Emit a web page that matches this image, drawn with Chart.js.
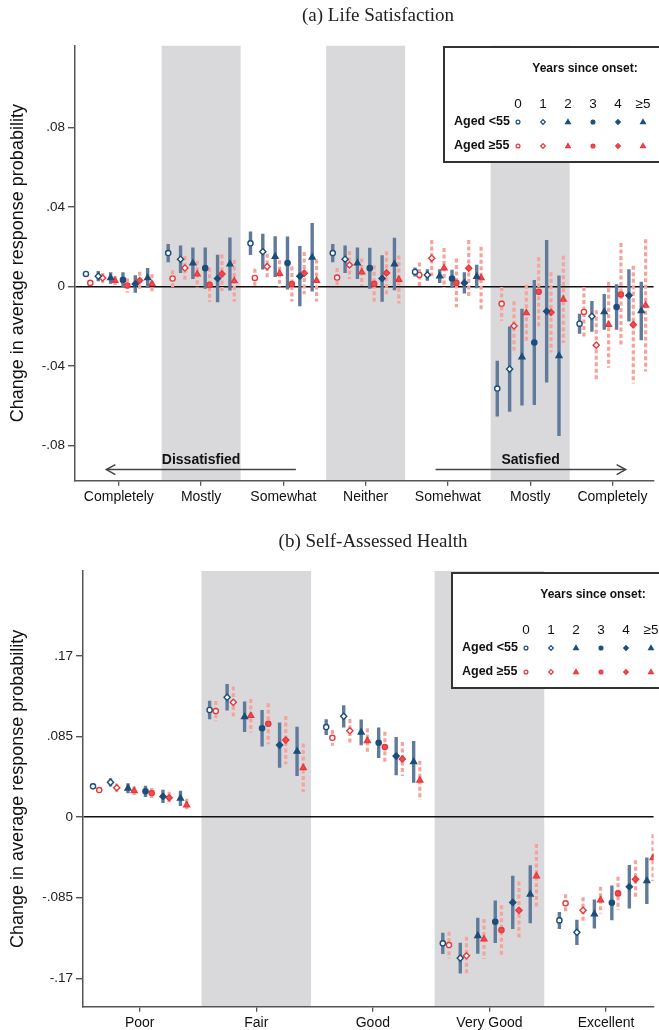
<!DOCTYPE html>
<html lang="en">
<head>
<meta charset="UTF-8" />
<title>Life Satisfaction and Self-Assessed Health</title>
<script src="https://cdn.jsdelivr.net/npm/chart.js"></script>
<style>
  body { margin: 0; background: #fff; }
  canvas { display: block; }
</style>
</head>
<body>
<canvas id="lsChart" width="659" height="515"></canvas>
<canvas id="shChart" width="659" height="515"></canvas>

<script>
const years = ["0", "1", "2", "3", "4", "≥5"];

// (a) life satisfaction: one row per category, one value per year since onset
const lsCategories = ["Completely", "Mostly", "Somewhat", "Neither", "Somehwat", "Mostly", "Completely"];
const lsTicks = [0.08, 0.04, 0, -0.04, -0.08];
const lsYoungEst = [
  [0.0063, 0.0052, 0.0043, 0.0033, 0.0013, 0.0043],
  [0.0168, 0.0137, 0.0117, 0.0092, 0.0040, 0.0113],
  [0.0217, 0.0175, 0.0150, 0.0118, 0.0052, 0.0147],
  [0.0168, 0.0137, 0.0117, 0.0092, 0.0040, 0.0113],
  [0.0073, 0.0058, 0.0052, 0.0040, 0.0018, 0.0050],
  [-0.0513, -0.0415, -0.0355, -0.0282, -0.0125, -0.0348],
  [-0.0187, -0.0150, -0.0128, -0.0103, -0.0045, -0.0123]
];
const lsYoungErr = [
  [0.0013, 0.0026, 0.0029, 0.0038, 0.0044, 0.0050],
  [0.0046, 0.0069, 0.0079, 0.0104, 0.0119, 0.0133],
  [0.0059, 0.0090, 0.0102, 0.0133, 0.0151, 0.0172],
  [0.0046, 0.0069, 0.0079, 0.0103, 0.0117, 0.0132],
  [0.0023, 0.0029, 0.0034, 0.0044, 0.0053, 0.0059],
  [0.0140, 0.0214, 0.0243, 0.0314, 0.0358, 0.0403],
  [0.0050, 0.0077, 0.0090, 0.0114, 0.0131, 0.0147]
];
const lsOldEst = [
  [0.0018, 0.0043, 0.0030, 0.0005, 0.0030, 0.0013],
  [0.0040, 0.0093, 0.0062, 0.0008, 0.0063, 0.0028],
  [0.0043, 0.0100, 0.0065, 0.0012, 0.0067, 0.0030],
  [0.0045, 0.0108, 0.0072, 0.0013, 0.0068, 0.0035],
  [0.0058, 0.0142, 0.0093, 0.0018, 0.0092, 0.0043],
  [-0.0087, -0.0198, -0.0133, -0.0027, -0.0130, -0.0065],
  [-0.0128, -0.0295, -0.0192, -0.0040, -0.0192, -0.0095]
];
const lsOldErr = [
  [0.0010, 0.0025, 0.0023, 0.0036, 0.0044, 0.0049],
  [0.0042, 0.0059, 0.0067, 0.0086, 0.0098, 0.0105],
  [0.0046, 0.0064, 0.0067, 0.0088, 0.0106, 0.0106],
  [0.0048, 0.0070, 0.0069, 0.0094, 0.0109, 0.0121],
  [0.0063, 0.0091, 0.0101, 0.0122, 0.0142, 0.0157],
  [0.0085, 0.0124, 0.0142, 0.0174, 0.0201, 0.0219],
  [0.0126, 0.0176, 0.0216, 0.0258, 0.0296, 0.0332]
];

// (b) self-assessed health
const shCategories = ["Poor", "Fair", "Good", "Very Good", "Excellent"];
const shTicks = [0.17, 0.085, 0, -0.085, -0.17];
const shYoungEst = [
  [0.0324, 0.0366, 0.0303, 0.0271, 0.0218, 0.0197],
  [0.1129, 0.1263, 0.1058, 0.0936, 0.0759, 0.0693],
  [0.0949, 0.1062, 0.0893, 0.0784, 0.0643, 0.0583],
  [-0.1332, -0.1487, -0.1252, -0.1104, -0.0900, -0.0815],
  [-0.1090, -0.1216, -0.1023, -0.0904, -0.0735, -0.0672]
];
const shYoungErr = [
  [0.0028, 0.0044, 0.0053, 0.0060, 0.0070, 0.0081],
  [0.0097, 0.0139, 0.0162, 0.0192, 0.0239, 0.0260],
  [0.0083, 0.0118, 0.0137, 0.0160, 0.0202, 0.0220],
  [0.0111, 0.0162, 0.0190, 0.0225, 0.0281, 0.0306],
  [0.0090, 0.0132, 0.0153, 0.0183, 0.0229, 0.0246]
];
const shOldEst = [
  [0.0285, 0.0309, 0.0277, 0.0253, 0.0204, 0.0127],
  [0.1118, 0.1210, 0.1069, 0.0984, 0.0812, 0.0520],
  [0.0836, 0.0910, 0.0805, 0.0738, 0.0612, 0.0387],
  [-0.1350, -0.1463, -0.1287, -0.1192, -0.0984, -0.0622],
  [-0.0910, -0.0984, -0.0876, -0.0805, -0.0657, -0.0429]
];
const shOldErr = [
  [0.0026, 0.0044, 0.0044, 0.0053, 0.0062, 0.0065],
  [0.0107, 0.0167, 0.0176, 0.0216, 0.0255, 0.0257],
  [0.0083, 0.0123, 0.0132, 0.0162, 0.0179, 0.0206],
  [0.0141, 0.0202, 0.0211, 0.0262, 0.0304, 0.0338],
  [0.0095, 0.0137, 0.0141, 0.0176, 0.0202, 0.0248]
];

const SANS = '"Liberation Sans", Arial, Helvetica, sans-serif';
const SERIF = '"Liberation Serif", "DejaVu Serif", serif';
Chart.defaults.font.family = SANS;

const shapes = ["circle", "rectRot", "triangle", "circle", "rectRot", "triangle"];
const radii = [2.6, 3.1, 3.4, 2.6, 3.1, 3.4];
const groups = {
  young: { marker: "#1d4e7a", fill: "#1d4e7a", bar: "#5f7a9a", dash: [], width: 3.4, shift: 0 },
  old: { marker: "#e8383d", fill: "#ee4e50", bar: "#f7a39c", dash: [4, 2.5], width: 3.2, shift: 0.053 }
};

function buildDatasets(youngEst, youngErr, oldEst, oldErr) {
  const sets = [];
  years.forEach((yr, j) => {
    [["young", youngEst, youngErr], ["old", oldEst, oldErr]].forEach(([g, est, err]) => {
      const st = groups[g];
      const hollow = j < 2;
      sets.push({
        label: (g === "young" ? "Aged <55, " : "Aged ≥55, ") + yr,
        data: est.map((row, k) => ({ x: k - 0.4 + 0.15 * j + st.shift, y: row[j], err: err[k][j] })),
        pointStyle: shapes[j],
        pointRadius: radii[j],
        pointBorderWidth: 1.4,
        borderColor: st.marker,
        backgroundColor: hollow ? "#ffffff" : st.fill,
        showLine: false,
        errColor: st.bar,
        errDash: st.dash,
        errWidth: st.width
      });
    });
  });
  return sets;
}

function fmtTick(v) {
  if (v === 0) return "0";
  return (v < 0 ? "-" : "") + String(Math.abs(v)).replace(/^0/, "");
}

// grey bands behind alternate categories
const bands = {
  id: "bands",
  beforeDraw(chart, args, opts) {
    const { ctx, chartArea: a, scales: { x } } = chart;
    ctx.save();
    ctx.fillStyle = "#d9d9db";
    opts.at.forEach((k) => {
      const l = x.getPixelForValue(k - opts.half);
      const r = x.getPixelForValue(k + opts.half);
      ctx.fillRect(l, a.top, r - l, a.bottom - a.top);
    });
    ctx.restore();
  }
};

// confidence intervals, drawn under the markers
const errorBars = {
  id: "errorBars",
  beforeDatasetsDraw(chart) {
    const { ctx, chartArea: a, scales: { x, y } } = chart;
    ctx.save();
    ctx.beginPath();
    ctx.rect(a.left, a.top, a.right - a.left, a.bottom - a.top);
    ctx.clip();
    chart.data.datasets.forEach((ds) => {
      ctx.strokeStyle = ds.errColor;
      ctx.lineWidth = ds.errWidth;
      ctx.setLineDash(ds.errDash);
      ds.data.forEach((p) => {
        const px = x.getPixelForValue(p.x);
        ctx.beginPath();
        ctx.moveTo(px, y.getPixelForValue(p.y + p.err));
        ctx.lineTo(px, y.getPixelForValue(p.y - p.err));
        ctx.stroke();
      });
    });
    ctx.restore();
  }
};

function drawShape(ctx, style, x, y, r) {
  ctx.beginPath();
  if (style === "circle") {
    ctx.arc(x, y, r, 0, Math.PI * 2);
  } else if (style === "rectRot") {
    ctx.moveTo(x, y - r); ctx.lineTo(x + r, y); ctx.lineTo(x, y + r); ctx.lineTo(x - r, y);
    ctx.closePath();
  } else {
    ctx.moveTo(x, y - r); ctx.lineTo(x + r * 0.95, y + r * 0.65); ctx.lineTo(x - r * 0.95, y + r * 0.65);
    ctx.closePath();
  }
  ctx.fill();
  ctx.stroke();
}

function drawArrow(ctx, x1, x2, y, text) {
  ctx.strokeStyle = "#444";
  ctx.lineWidth = 1.5;
  ctx.beginPath();
  ctx.moveTo(x1, y); ctx.lineTo(x2, y);
  ctx.stroke();
  const dir = x2 > x1 ? 1 : -1;
  ctx.beginPath();
  ctx.moveTo(x2 - dir * 9, y - 5); ctx.lineTo(x2, y); ctx.lineTo(x2 - dir * 9, y + 5);
  ctx.stroke();
  ctx.fillStyle = "#111";
  ctx.font = "bold 14px " + SANS;
  ctx.textAlign = "center";
  ctx.textBaseline = "middle";
  ctx.fillText(text, (x1 + x2) / 2, y - 9);
}

// panel title, key box and the direction arrows
const decor = {
  id: "decor",
  afterDraw(chart, args, opts) {
    const { ctx, scales: { x, y } } = chart;
    ctx.save();
    ctx.fillStyle = "#222";
    ctx.font = "19px " + SERIF;
    ctx.textAlign = "center";
    ctx.textBaseline = "middle";
    ctx.fillText(opts.title, opts.titleX, opts.titleY);

    (opts.arrows || []).forEach((ar) => {
      const x1 = x.getPixelForValue(ar.from), x2 = x.getPixelForValue(ar.to);
      drawArrow(ctx, x1, x2, y.getPixelForValue(ar.y), ar.text);
    });

    const L = opts.keyLeft, T = opts.keyTop;
    ctx.fillStyle = "#fff";
    ctx.fillRect(L, T, 240, 115);
    ctx.strokeStyle = "#333";
    ctx.lineWidth = 2;
    ctx.strokeRect(L, T, 240, 115);
    ctx.fillStyle = "#111";
    ctx.textAlign = "center";
    ctx.font = "bold 12px " + SANS;
    ctx.fillText("Years since onset:", L + 141, T + 22);
    ctx.font = "13.5px " + SANS;
    years.forEach((yr, j) => ctx.fillText(yr, L + 74 + 25 * j, T + 57));
    ctx.textAlign = "left";
    ctx.font = "bold 12.5px " + SANS;
    ctx.fillText("Aged <55", L + 10, T + 75);
    ctx.fillText("Aged ≥55", L + 10, T + 99);
    [["young", T + 75], ["old", T + 99]].forEach(([g, ry]) => {
      const st = groups[g];
      years.forEach((yr, j) => {
        ctx.strokeStyle = st.marker;
        ctx.fillStyle = j < 2 ? "#fff" : st.fill;
        ctx.lineWidth = 1.2;
        drawShape(ctx, shapes[j], L + 74 + 25 * j, ry, radii[j] * 0.75);
      });
    });
    ctx.restore();
  }
};

function makeChart(id, cfg) {
  return new Chart(document.getElementById(id), {
    type: "scatter",
    data: { datasets: buildDatasets(cfg.youngEst, cfg.youngErr, cfg.oldEst, cfg.oldErr) },
    plugins: [bands, errorBars, decor],
    options: {
      responsive: false,
      animation: false,
      events: [],
      layout: { padding: { top: cfg.top, left: 0, right: 0, bottom: 0 } },
      plugins: {
        legend: { display: false },
        tooltip: { enabled: false },
        bands: { at: cfg.shaded, half: cfg.bandHalf },
        decor: cfg.decor
      },
      scales: {
        x: {
          type: "linear",
          min: cfg.xMin,
          max: cfg.xMax,
          afterBuildTicks: (s) => { s.ticks = cfg.categories.map((c, i) => ({ value: i })); },
          afterFit: (s) => { s.height = cfg.xHeight; },
          ticks: {
            autoSkip: false,
            maxRotation: 0,
            padding: 3,
            color: "#111",
            font: { size: 14 },
            callback: (v) => cfg.categories[v]
          },
          grid: { drawOnChartArea: false, tickLength: 5, tickColor: "#555", lineWidth: 1.3 },
          border: { color: "#555", width: 1.5 }
        },
        y: {
          min: cfg.yMin,
          max: cfg.yMax,
          afterBuildTicks: (s) => { s.ticks = cfg.ticks.map((v) => ({ value: v })); },
          afterFit: (s) => { s.width = cfg.yWidth; },
          ticks: { padding: 3, color: "#222", font: { size: 13.5 }, callback: fmtTick },
          grid: {
            drawOnChartArea: true,
            color: (c) => (c.tick && c.tick.value === 0 ? "#111" : "rgba(0,0,0,0)"),
            lineWidth: 1.4,
            tickColor: "#555",
            tickLength: 7
          },
          border: { color: "#555", width: 1.5 },
          title: {
            display: true,
            text: "Change in average response probability",
            color: "#111",
            font: { size: 18 },
            padding: { top: 7, bottom: 0 }
          }
        }
      }
    }
  });
}

makeChart("lsChart", {
  categories: lsCategories, ticks: lsTicks,
  youngEst: lsYoungEst, youngErr: lsYoungErr, oldEst: lsOldEst, oldErr: lsOldErr,
  xMin: -0.533, xMax: 6.5, yMin: -0.0976, yMax: 0.121,
  top: 45.7, xHeight: 34.3, yWidth: 75,
  shaded: [1, 3, 5], bandHalf: 0.48,
  decor: {
    title: "(a) Life Satisfaction", titleX: 378, titleY: 16,
    keyLeft: 444, keyTop: 47,
    arrows: [
      { from: 2.152, to: -0.152, y: -0.092, text: "Dissatisfied" },
      { from: 3.85, to: 6.16, y: -0.092, text: "Satisfied" }
    ]
  }
});

makeChart("shChart", {
  categories: shCategories, ticks: shTicks,
  youngEst: shYoungEst, youngErr: shYoungErr, oldEst: shOldEst, oldErr: shOldErr,
  xMin: -0.486, xMax: 4.408, yMin: -0.2, yMax: 0.2595,
  top: 56, xHeight: 23.3, yWidth: 83,
  shaded: [1, 3], bandHalf: 0.47,
  decor: {
    title: "(b) Self-Assessed Health", titleX: 373, titleY: 27,
    keyLeft: 452, keyTop: 58,
    arrows: []
  }
});
</script>
</body>
</html>
